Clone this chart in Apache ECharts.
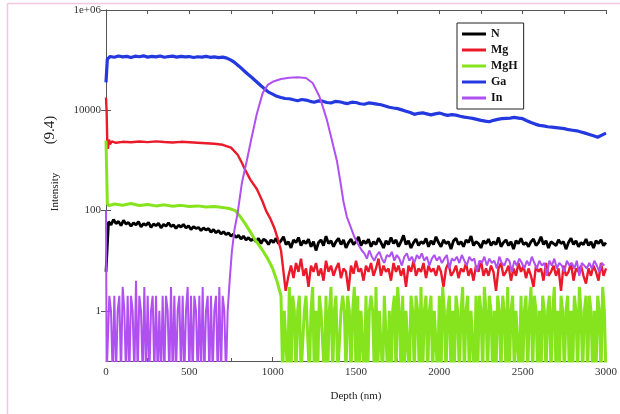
<!DOCTYPE html>
<html>
<head>
<meta charset="utf-8">
<script src="https://cdn.jsdelivr.net/npm/echarts@6/dist/echarts.min.js"></script>
<style>html,body{margin:0;padding:0;background:#fff;}#c{width:620px;height:414px;}</style>
</head>
<body>
<div id="c"></div>
<script>
// ---- data ----
const seriesNames = ['N', 'Mg', 'MgH', 'Ga', 'In'];
const xTickStep = 500;
const yTickValues = [1, 100, 10000, 1000000];
const yTickLabels = ['1', '100', '10000', '1e+06'];

// N: sampled every 15 nm from 0
const nStart = 0, nStep = 15;
const nValues = [6, 60, 52, 66, 55, 61, 50, 64, 54, 58,
 49, 57, 52, 60, 47, 55, 51, 58, 46, 54,
 50, 56, 45, 53, 49, 57, 48, 52, 44, 51,
 47, 53, 45, 50, 42, 48, 44, 46, 40, 45,
 41, 44, 37, 42, 36, 40, 34, 38, 33, 36,
 31, 34, 29, 32, 27, 31, 26, 29, 25, 28,
 24, 28, 22, 27, 25, 21, 26, 23, 28, 22,
 25, 30, 21, 24, 18, 26, 23, 29, 20, 25,
 22, 27, 19, 24, 16, 23, 26, 20, 31, 22,
 25, 19, 24, 28, 21, 26, 18, 23, 27, 21,
 24, 30, 20, 25, 22, 27, 19, 24, 21, 28,
 23, 18, 25, 21, 29, 22, 26, 19, 24, 32,
 21, 25, 18, 23, 27, 20, 24, 22, 28, 19,
 25, 21, 30, 23, 19, 26, 22, 24, 17, 25,
 28, 21, 24, 19, 26, 23, 31, 20, 24, 22,
 18, 25, 22, 27, 20, 24, 21, 29, 19, 23,
 26, 20, 24, 17, 25, 22, 28, 21, 23, 19,
 24, 27, 20, 23, 30, 21, 25, 18, 24, 22,
 20, 26, 22, 24, 17, 23, 28, 21, 25, 19,
 23, 21, 27, 20, 24, 18, 25, 22, 26, 20,
 23];

// Mg: explicit head, then noise every 15 nm from 1095
const mgHead = [[0,18000],[4,9000],[8,2000],[12,1700],[18,2600],[24,2100],[35,2400],[60,2250],[100,2350],[150,2300],[200,2380],[250,2320],[300,2400],[350,2330],[400,2280],[450,2350],[500,2300],[550,2250],[600,2200],[650,2150],[700,2050],[750,1800],[790,1300],[815,900],[835,650],[865,420],[905,270],[940,150],[960,100],[985,70],[1010,45],[1030,28],[1050,16],[1065,6],[1078,2.5]];
const mgTailStart = 1095, mgTailStep = 15;
const mgTail = [5, 8, 4.5, 9, 6, 11, 5, 7, 3, 8,
 6, 9, 5, 7, 4, 10, 6, 8, 5, 7,
 9, 4.5, 7, 6, 2.5, 8, 5.5, 10, 6, 7,
 4, 8, 6, 9, 5, 7, 11, 5, 8, 6,
 7, 4, 9, 6, 8, 5, 7, 3, 8, 6,
 10, 5, 7, 6, 9, 4.5, 8, 6, 7, 5,
 8, 6, 3, 7, 9, 5, 6, 8, 4.5, 7,
 6, 9, 5, 7, 4, 8, 6, 10, 5, 7,
 5, 8, 6, 2.5, 7, 9, 5, 6, 8, 4,
 7, 5, 9, 6, 8, 4.5, 7, 5, 3, 8,
 6, 7, 4, 9, 5, 6, 8, 5, 7, 2.5,
 8, 5, 6, 9, 4, 7, 6, 8, 5, 3.5,
 7, 5, 8, 6, 4, 9, 5, 7];

// MgH: explicit head, then counts every 10 nm from 1050 (0 = no counts)
const mghHead = [[0,2500],[4,600],[8,140],[15,125],[50,135],[100,128],[150,138],[200,126],[250,132],[300,124],[350,130],[400,122],[450,127],[500,120],[550,124],[600,118],[650,121],[700,115],[740,110],[775,100],[800,80],[835,55],[865,38],[895,26],[940,16],[970,11],[1000,7],[1025,4],[1042,2.5]];
const mghTailStart = 1050, mghTailStep = 10;
const mghTail = [2,0,1,1,0,3,0,2,1,0,
 1,2,0,0,1,2,2,0,1,3,
 0,1,0,2,1,1,0,2,0,1,
 3,0,1,2,0,0,1,2,1,0,
 2,1,0,1,3,0,2,0,1,1,
 0,2,0,1,2,1,0,3,0,1,
 1,0,2,2,0,1,0,1,2,0,
 3,1,0,2,0,1,1,0,2,1,
 0,2,1,0,3,0,1,2,0,1,
 2,0,1,1,0,2,0,3,1,0,
 1,2,0,1,0,2,1,0,1,3,
 0,1,2,0,1,1,0,2,0,2,
 1,0,3,1,0,2,1,0,1,0,
 2,1,0,2,1,0,3,0,1,2,
 0,1,1,0,2,0,1,2,0,1,
 3,0,2,1,0,1,0,2,1,0,
 1,2,0,1,3,0,1,0,2,1,
 0,1,2,0,1,0,2,1,0,3,
 1,0,1,2,0,2,1,0,1,0,
 2,1,0,3,1,0];

// Ga: explicit
const gaPoints = [[0,36000],[8,105000],[25,118000],[50,114000],[75,121000],[100,116000],[125,119000],[150,113000],[175,120000],[200,117000],[225,122000],[250,115000],[275,119000],[300,116000],[325,121000],[350,114000],[375,118000],[400,120000],[425,115000],[450,119000],[475,116000],[500,118000],[525,113000],[550,117000],[575,115000],[600,119000],[625,114000],[650,116000],[675,112000],[700,115000],[725,110000],[750,100000],[775,88000],[800,75000],[825,63000],[850,53000],[875,45000],[900,38000],[925,32000],[950,27000],[975,23000],[1000,21000],[1025,19000],[1050,18000],[1075,17200],[1100,17000],[1125,16200],[1150,15500],[1175,16400],[1200,16000],[1225,15100],[1250,14500],[1275,15400],[1300,15200],[1325,14300],[1350,14000],[1375,15000],[1400,14800],[1425,14100],[1450,13600],[1475,14500],[1500,14300],[1525,13500],[1550,13200],[1575,14000],[1600,13700],[1625,13300],[1650,12900],[1675,12200],[1700,11500],[1725,11100],[1750,10800],[1775,10200],[1800,9600],[1825,9000],[1850,8300],[1875,8700],[1900,8900],[1925,8500],[1950,8100],[1975,8500],[2000,8800],[2025,8300],[2050,7900],[2075,8200],[2100,8000],[2125,7600],[2150,7300],[2175,7100],[2200,6900],[2225,6600],[2250,6300],[2275,6100],[2300,5900],[2325,6300],[2350,6600],[2375,6800],[2400,6900],[2425,7000],[2450,7200],[2475,7000],[2500,6800],[2525,6200],[2550,5700],[2575,5300],[2600,5000],[2625,4900],[2650,4700],[2675,4600],[2700,4500],[2725,4400],[2750,4300],[2775,4100],[2800,4000],[2825,3900],[2850,3700],[2875,3500],[2900,3300],[2925,3100],[2950,2900],[2975,3200],[3000,3500]];

// In: head counts every 10 nm from 10, peak explicit, tail every 15 nm from 1550
const inStartPoints = [[0,100],[4,0]];
const inHeadStart = 10, inHeadStep = 10;
const inHead = [0,2,1,0,2,0,1,2,0,3,
 1,0,2,0,2,1,0,4,0,2,
 1,0,3,0,2,0,1,2,0,2,
 0,1,0,2,0,2,1,0,3,0,
 2,0,1,2,0,2,0,1,3,0,
 2,0,2,1,0,2,0,3,0,1,
 2,0,2,0,1,2,0,3,0,2,
 1,0];
const inPeak = [[730,1],[742,4],[755,15],[770,40],[790,90],[815,350],[845,1000],[875,3000],[905,8500],[940,22000],[970,32000],[1000,37000],[1050,42000],[1100,44500],[1150,45500],[1200,44000],[1240,35000],[1280,19000],[1300,12000],[1325,6500],[1350,3000],[1385,1000],[1405,400],[1425,150],[1445,75],[1465,50],[1490,30],[1510,22],[1535,16]];
const inTailStart = 1550, inTailStep = 15;
const inTail = [14, 11, 16, 12, 10, 13, 15, 11, 9, 13,
 12, 15, 10, 13, 11, 8, 12, 14, 10, 12,
 9, 13, 11, 14, 10, 12, 8, 11, 13, 10,
 12, 9, 11, 13, 7, 11, 10, 12, 9, 13,
 10, 8, 12, 10, 11, 6, 10, 9, 12, 8,
 11, 9, 10, 7, 12, 9, 8, 11, 10, 6,
 10, 8, 11, 9, 7, 10, 8, 12, 9, 7,
 10, 8, 9, 5, 10, 8, 11, 7, 9, 8,
 6, 10, 8, 9, 7, 10, 5, 9, 8, 7,
 9, 7, 10, 8, 6, 9, 8];

// ---- build ----
const ZERO_FLOOR = 0.05; // zero counts cannot sit on a log axis; draw them below the frame
const fix = v => (v <= 0 ? ZERO_FLOOR : v);
const grid = (start, step, vals) => vals.map((v, i) => [start + i * step, fix(v)]);
const pts = arr => arr.map(p => [p[0], fix(p[1])]);

const dataN = grid(nStart, nStep, nValues);
const dataMg = pts(mgHead).concat(grid(mgTailStart, mgTailStep, mgTail));
const dataMgH = pts(mghHead).concat(grid(mghTailStart, mghTailStep, mghTail));
const dataGa = pts(gaPoints);
const dataIn = pts(inStartPoints).concat(grid(inHeadStart, inHeadStep, inHead), pts(inPeak), grid(inTailStart, inTailStep, inTail));

const colors = {N: '#000000', Mg: '#ea1a2a', MgH: '#86e41e', Ga: '#2438e0', In: '#b050f0'};
const widths = {N: 2.8, Mg: 2.4, MgH: 3, Ga: 3.2, In: 2};
const dataMap = {N: dataN, Mg: dataMg, MgH: dataMgH, Ga: dataGa, In: dataIn};

const FONT = 'Liberation Serif';
const chart = echarts.init(document.getElementById('c'), null, {renderer: 'canvas'});
const axisLineStyle = {color: '#555', width: 1};

chart.setOption({
  animation: false,
  backgroundColor: '#fff',
  grid: {left: 106, right: 12, top: 10, bottom: 53, containLabel: false},
  legend: {
    data: seriesNames,
    orient: 'vertical',
    left: 457, top: 23,
    icon: 'rect',
    itemWidth: 24, itemHeight: 3, itemGap: 4,
    padding: [5, 6, 5, 5],
    borderColor: '#222', borderWidth: 1,
    backgroundColor: '#fff',
    textStyle: {fontFamily: FONT, fontSize: 12, color: '#111', fontWeight: 'bold'}
  },
  xAxis: [{
    type: 'value', position: 'bottom', min: 0, max: 3000, interval: xTickStep,
    axisLine: {show: true, lineStyle: axisLineStyle},
    axisTick: {show: true, inside: true, length: 4, lineStyle: axisLineStyle},
    minorTick: {show: true, splitNumber: 2, length: 3, lineStyle: axisLineStyle},
    splitLine: {show: false},
    axisLabel: {fontFamily: FONT, fontSize: 11, color: '#333', margin: 6, formatter: v => String(v)},
    name: 'Depth (nm)', nameLocation: 'middle', nameGap: 30,
    nameTextStyle: {fontFamily: FONT, fontSize: 11, color: '#222'}
  }, {
    type: 'value', position: 'top', min: 0, max: 3000, interval: 250,
    axisLine: {show: true, lineStyle: axisLineStyle},
    axisTick: {show: true, inside: true, length: 4, lineStyle: axisLineStyle},
    axisLabel: {show: false}, splitLine: {show: false}
  }],
  yAxis: [{
    type: 'log', logBase: 10, min: 0.1, max: 1000000, position: 'left',
    axisLine: {show: true, lineStyle: axisLineStyle},
    axisTick: {show: true, inside: true, length: 5, customValues: yTickValues, lineStyle: axisLineStyle},
    axisLabel: {fontFamily: FONT, fontSize: 11, color: '#333', margin: 5, customValues: yTickValues,
      formatter: v => { const i = yTickValues.findIndex(t => Math.abs(t - v) / t < 1e-6); return i >= 0 ? yTickLabels[i] : ''; }},
    splitLine: {show: false}
  }, {
    type: 'log', logBase: 10, min: 0.1, max: 1000000, position: 'right',
    axisLine: {show: true, lineStyle: axisLineStyle},
    axisTick: {show: true, inside: true, length: 5, customValues: yTickValues, lineStyle: axisLineStyle},
    axisLabel: {show: false}, splitLine: {show: false}
  }],
  graphic: [
    {type: 'line', shape: {x1: 7.5, y1: 3.5, x2: 620, y2: 3.5}, style: {stroke: '#f2c6e0', lineWidth: 1.5}, silent: true},
    {type: 'line', shape: {x1: 7.5, y1: 3.5, x2: 7.5, y2: 414}, style: {stroke: '#f2c6e0', lineWidth: 1.5}, silent: true},
    {type: 'text', x: 50, y: 130, rotation: Math.PI / 2, style: {text: '(9.4)', font: '15px "Liberation Serif"', fill: '#222', align: 'center', verticalAlign: 'middle'}},
    {type: 'text', x: 55, y: 192, rotation: Math.PI / 2, style: {text: 'Intensity', font: '11px "Liberation Serif"', fill: '#222', align: 'center', verticalAlign: 'middle'}}
  ],
  series: seriesNames.map(name => ({
    name: name, type: 'line', xAxisIndex: 0, yAxisIndex: 0,
    data: dataMap[name], showSymbol: false, symbol: 'none', clip: true,
    lineStyle: {color: colors[name], width: widths[name]},
    itemStyle: {color: colors[name]},
    emphasis: {disabled: true}
  }))
});
</script>
</body>
</html>
